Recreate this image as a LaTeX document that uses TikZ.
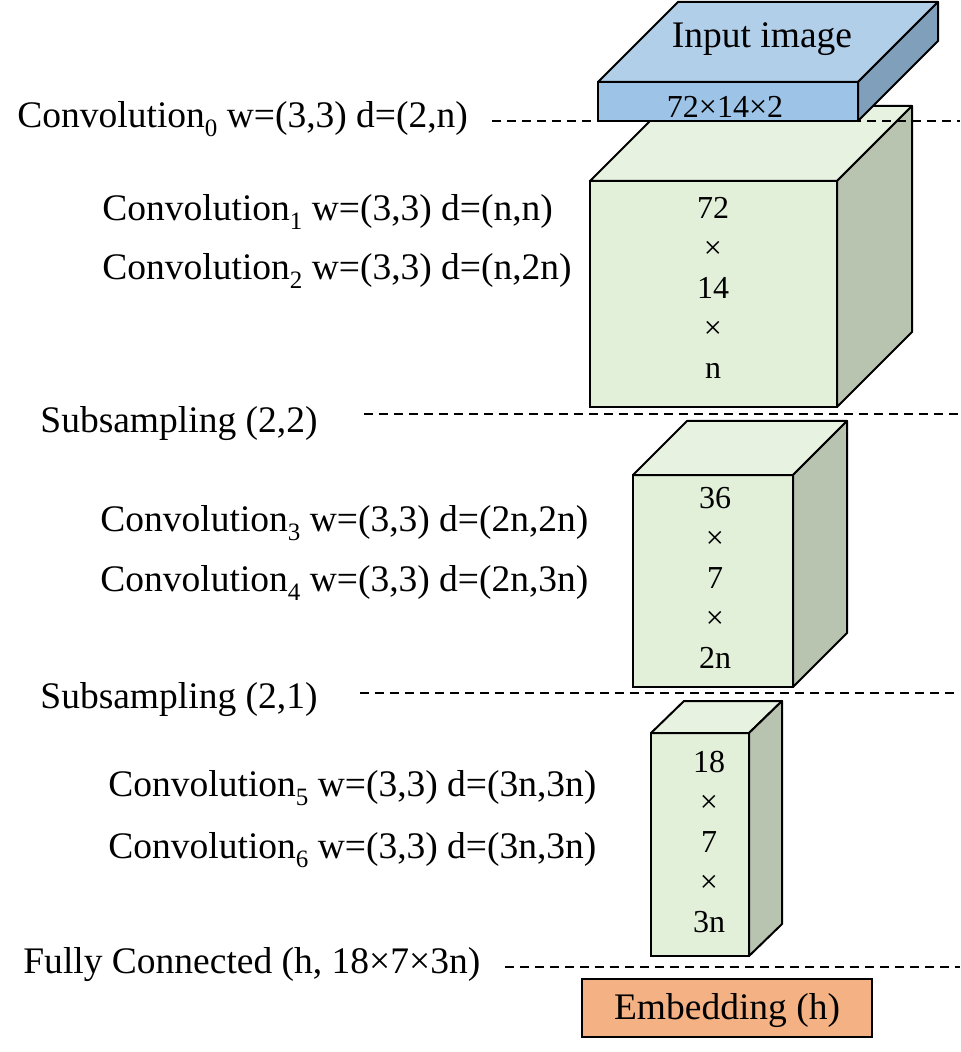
\documentclass[tikz,border=0pt]{standalone}
\usepackage{fontspec}
\setmainfont{Liberation Serif}
\usetikzlibrary{positioning,calc}
\definecolor{inblue}{HTML}{9DC3E6}
\definecolor{intop}{HTML}{B2CFEA}
\definecolor{inside}{HTML}{7F9FBA}
\definecolor{fmgreen}{HTML}{E2EFD9}
\definecolor{fmtop}{HTML}{E7F2E0}
\definecolor{fmside}{HTML}{B8C4B0}
\definecolor{embsalmon}{HTML}{F4B183}
\newcommand{\lowidx}[1]{\raisebox{-0.24em}{\fontsize{12.5}{14}\selectfont #1}}
\tikzset{
  lbl style/.style={anchor=base west, inner sep=0pt, font=\fontsize{18.75}{22}\selectfont},
  front style/.style={rectangle, draw, line width=1pt, inner sep=0pt, outer sep=0pt},
  dim style/.style={align=center, inner sep=0pt, font=\fontsize{16}{20}\selectfont},
  face style/.style={draw, line width=1pt, line join=round},
  sep style/.style={line width=0.7pt, dash pattern=on 4.5pt off 3pt}
}
\begin{document}
\begin{tikzpicture}[x=0.5pt, y=-0.5pt]
\useasboundingbox (0,0) rectangle (960,1052);

\node[lbl style] (c0) at (17,128) {Convolution\lowidx{0} w=(3,3) d=(2,n)};
\node[lbl style] (c1) at (102,221) {Convolution\lowidx{1} w=(3,3) d=(n,n)};
\node[lbl style] (c2) at (102,280) {Convolution\lowidx{2} w=(3,3) d=(n,2n)};
\node[lbl style] (s1) at (40,433) {Subsampling (2,2)};
\node[lbl style] (c3) at (100,531) {Convolution\lowidx{3} w=(3,3) d=(2n,2n)};
\node[lbl style] (c4) at (100,591) {Convolution\lowidx{4} w=(3,3) d=(2n,3n)};
\node[lbl style] (s2) at (40,708) {Subsampling (2,1)};
\node[lbl style] (c5) at (108,796) {Convolution\lowidx{5} w=(3,3) d=(3n,3n)};
\node[lbl style] (c6) at (108,858) {Convolution\lowidx{6} w=(3,3) d=(3n,3n)};
\node[lbl style] (fc) at (23,973) {Fully Connected (h, 18×7×3n)};

\node[front style, fill=fmgreen, minimum width=123.5pt, minimum height=113pt] (cube1) at (713.5,294) {};
\draw[face style, fill=fmtop] (cube1.north west) -- ([shift={(75,-75)}]cube1.north west)
  -- ([shift={(75,-75)}]cube1.north east) -- (cube1.north east) -- cycle;
\draw[face style, fill=fmside] (cube1.north east) -- ([shift={(75,-75)}]cube1.north east)
  -- ([shift={(75,-75)}]cube1.south east) -- (cube1.south east) -- cycle;
\node[dim style] (cube1dim) at (713,288) {72\\×\\14\\×\\n};

\node[front style, fill=fmgreen, minimum width=80pt, minimum height=106pt] (cube2) at (713,581) {};
\draw[face style, fill=fmtop] (cube2.north west) -- ([shift={(54,-54)}]cube2.north west)
  -- ([shift={(54,-54)}]cube2.north east) -- (cube2.north east) -- cycle;
\draw[face style, fill=fmside] (cube2.north east) -- ([shift={(54,-54)}]cube2.north east)
  -- ([shift={(54,-54)}]cube2.south east) -- (cube2.south east) -- cycle;
\node[dim style] (cube2dim) at (715,578) {36\\×\\7\\×\\2n};

\node[front style, fill=fmgreen, minimum width=49pt, minimum height=111.5pt] (cube3) at (700,844.5) {};
\draw[face style, fill=fmtop] (cube3.north west) -- ([shift={(33,-32)}]cube3.north west)
  -- ([shift={(33,-32)}]cube3.north east) -- (cube3.north east) -- cycle;
\draw[face style, fill=fmside] (cube3.north east) -- ([shift={(33,-32)}]cube3.north east)
  -- ([shift={(33,-32)}]cube3.south east) -- (cube3.south east) -- cycle;
\node[dim style] (cube3dim) at (709,842) {18\\×\\7\\×\\3n};

\coordinate (d0a) at (492,121);
\coordinate (d0b) at (960,121);
\coordinate (d1a) at (364,414);
\coordinate (d1b) at (960,414);
\coordinate (d2a) at (360,693);
\coordinate (d2b) at (955,693);
\coordinate (d3a) at (505,967);
\coordinate (d3b) at (960,967);
\draw[sep style] (d0a) -- (d0b);
\draw[sep style] (d1a) -- (d1b);
\draw[sep style] (d2a) -- (d2b);
\draw[sep style] (d3a) -- (d3b);

\node[front style, fill=inblue, minimum width=130pt, minimum height=19.5pt] (inp) at (728,101.5) {};
\draw[face style, fill=intop] (inp.north west) -- ([shift={(80,-80)}]inp.north west)
  -- ([shift={(80,-80)}]inp.north east) -- (inp.north east) -- cycle;
\draw[face style, fill=inside] (inp.north east) -- ([shift={(80,-80)}]inp.north east)
  -- ([shift={(80,-80)}]inp.south east) -- (inp.south east) -- cycle;
\node[font=\fontsize{18.75}{22}\selectfont, anchor=base] (inptxt) at (762,48) {Input image};
\node[font=\fontsize{16}{20}\selectfont, anchor=base] (inpdim) at (725,118) {72×14×2};

\node[front style, fill=embsalmon, minimum width=145pt, minimum height=29pt] (emb) at (727,1008) {};
\node[font=\fontsize{18.75}{22}\selectfont, anchor=base] (embtxt) at (727,1019) {Embedding (h)};

\end{tikzpicture}
\end{document}
